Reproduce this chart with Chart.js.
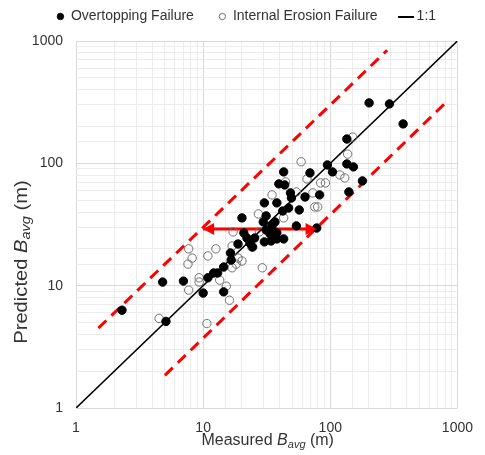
<!DOCTYPE html>
<html><head><meta charset="utf-8">
<script src="https://cdn.jsdelivr.net/npm/chart.js@4.4.0/dist/chart.umd.min.js"></script>
<style>html,body{margin:0;padding:0;background:#fff;}</style>
</head><body>
<canvas id="c" width="485" height="455" style="width:485px;height:455px;display:block"></canvas>
<script>
// ---- data (measured vs predicted B_avg, metres) ----
const overtopMeasured  = [2.3,4.8,7.0,5.1,10.9,10.0,12.1,13.0,14.5,14.5,16.4,16.6,18.8,20.9,22.1,23.3,24.5,25.4,20.2,30.3,38.0,42.3,47.0,57.0,31.3,29.7,36.7,34.8,31.3,33.6,38.0,54.1,78.2,30.3,34.2,38.0,43.0,43.0,39.4,43.8,69.2,48.6,63.3,82.4,49.5,94.9,104,135,135,152,179,140,202,292,374];
const overtopPredicted = [6.3,10.7,10.9,5.1,11.6,8.7,12.7,12.7,8.9,14.2,18.5,16.2,21.9,27.0,24.5,22.3,20.7,24.5,35.8,47.5,47.5,40.8,43.2,41.6,37.2,33.2,33.2,30.8,28.5,26.5,27.0,30.8,29.6,22.8,23.2,24.1,24.1,85.1,67.9,66.6,83.5,57.3,53.1,55.2,52.1,97.0,85.1,158,98.9,93.5,71.8,58.4,312,306,210];
const erosionMeasured  = [4.5,7.7,8.2,7.6,7.7,9.3,9.3,10.9,12.6,10.7,15.2,16.1,13.5,16.9,16.9,18.8,20.2,18.2,17.2,27.2,43.0,27.7,29.2,75.5,79.6,59.0,119,44.5,83.9,91.6,54.1,65.6,72.9,34.8,150,137,130,24.1];
const erosionPredicted = [5.4,20.0,16.8,15.0,9.2,11.6,10.7,17.5,20.0,4.9,9.9,7.6,11.1,21.1,14.0,16.8,15.9,15.0,27.5,38.6,35.8,27.5,14.0,44.0,44.0,103,80.4,70.5,69.2,69.2,58.4,74.5,57.3,55.2,164,119,76.0,20.7];
const oneToOneX = [1, 1000];
const oneToOneY = [1, 1000];
const upperBoundX = [1.5, 280];
const upperBoundY = [4.5, 840];
const lowerBoundX = [5.0, 800];
const lowerBoundY = [1.85, 310];
const arrowX = [10, 78];
const arrowY = [29, 29];
const tickLabels = [1, 10, 100, 1000];
const seriesNames = ['Overtopping Failure', 'Internal Erosion Failure', '1:1'];
const xTitleParts = ['Measured ', 'B', 'avg', ' (m)'];
const yTitleParts = ['Predicted ', 'B', 'avg', ' (m)'];

const zip = (xs, ys) => xs.map((x, i) => ({x: x, y: ys[i]}));
const FONT = "Arial, 'Liberation Sans', sans-serif";

const lineIcon = document.createElement('canvas');
lineIcon.width = 16; lineIcon.height = 2;
(function(){ const g = lineIcon.getContext('2d'); g.fillStyle = '#000'; g.fillRect(0, 0, 16, 2); })();

function drawRich(ctx, parts, cx, cy, rot, size, stretch) {
  ctx.save();
  ctx.translate(cx, cy);
  ctx.rotate(rot);
  ctx.scale(stretch, 1);
  const sub = Math.round(size * 0.7);
  const fonts = [size + 'px ' + FONT, 'italic ' + size + 'px ' + FONT, 'italic ' + sub + 'px ' + FONT, size + 'px ' + FONT];
  const dys = [0, 0, size * 0.25, 0];
  let total = 0;
  const ws = parts.map((t, i) => { ctx.font = fonts[i]; const w = ctx.measureText(t).width; total += w; return w; });
  let x = -total / 2;
  ctx.textBaseline = 'middle';
  ctx.fillStyle = '#333';
  parts.forEach((t, i) => { ctx.font = fonts[i]; ctx.fillText(t, x, dys[i]); x += ws[i]; });
  ctx.restore();
}

const LEGEND_PAD = 25;
const customPlugin = {
  id: 'custom',
  afterInit(chart) {
    const lg = chart.legend;
    const orig = lg.fit.bind(lg);
    lg.fit = function() { orig(); this.height = 41; };
  },
  afterLayout(chart) {
    const lg = chart.legend;
    lg.left += 12; lg.right += 12;
    lg.top = 16.5 - 7 - LEGEND_PAD;
  },
  afterDatasetsDraw(chart) {
    const ctx = chart.ctx;
    const meta = chart.getDatasetMeta(5);
    const p0 = meta.data[0], p1 = meta.data[1];
    ctx.save();
    ctx.fillStyle = '#ff0000';
    const L = 11, H = 6;
    ctx.beginPath();
    ctx.moveTo(p0.x, p0.y); ctx.lineTo(p0.x + L, p0.y - H); ctx.lineTo(p0.x + L, p0.y + H); ctx.closePath(); ctx.fill();
    ctx.beginPath();
    ctx.moveTo(p1.x, p1.y); ctx.lineTo(p1.x - L, p1.y - H); ctx.lineTo(p1.x - L, p1.y + H); ctx.closePath(); ctx.fill();
    ctx.restore();
  },
  afterDraw(chart) {
    const a = chart.chartArea;
    drawRich(chart.ctx, xTitleParts, (a.left + a.right) / 2 + 1, 441, 0, 16, 1);
    drawRich(chart.ctx, yTitleParts, 22, 262, -Math.PI / 2, 18, 1.12);
  }
};

const majorSet = new Set(tickLabels);
const gridColor = (ctx) => (ctx.tick && majorSet.has(ctx.tick.value)) ? '#d9d9d9' : '#ececec';
const tickCb = (v) => majorSet.has(v) ? String(v) : '';

new Chart(document.getElementById('c'), {
  type: 'scatter',
  data: {
    datasets: [
      { label: seriesNames[0], data: zip(overtopMeasured, overtopPredicted), pointRadius: 4.2, pointBackgroundColor: '#000', pointBorderColor: '#000', pointBorderWidth: 1, showLine: false },
      { label: seriesNames[1], data: zip(erosionMeasured, erosionPredicted), pointRadius: 4.2, pointBackgroundColor: 'rgba(255,255,255,0)', pointBorderColor: '#707070', pointBorderWidth: 1, showLine: false },
      { label: seriesNames[2], data: zip(oneToOneX, oneToOneY), showLine: true, pointRadius: 0, borderColor: '#000', borderWidth: 1.6 },
      { label: 'upper', data: zip(upperBoundX, upperBoundY), showLine: true, pointRadius: 0, borderColor: '#ff0000', borderWidth: 3, borderDash: [11, 7] },
      { label: 'lower', data: zip(lowerBoundX, lowerBoundY), showLine: true, pointRadius: 0, borderColor: '#ff0000', borderWidth: 3, borderDash: [11, 7] },
      { label: 'arrow', data: zip(arrowX, arrowY), showLine: true, pointRadius: 0, borderColor: '#ff0000', borderWidth: 3 }
    ]
  },
  options: {
    responsive: false,
    animation: false,
    devicePixelRatio: 1,
    layout: { padding: { top: 0, left: 0, right: 16, bottom: 0 } },
    plugins: {
      tooltip: { enabled: false },
      legend: {
        position: 'top',
        labels: {
          usePointStyle: true,
          boxWidth: 7,
          boxHeight: 4.5,
          padding: LEGEND_PAD,
          color: '#333',
          font: { size: 14, family: FONT },
          filter: (item) => item.datasetIndex < 3,
          generateLabels: (chart) => {
            const items = Chart.defaults.plugins.legend.labels.generateLabels(chart);
            items.forEach(it => {
              if (it.datasetIndex === 0) { it.fillStyle = '#000'; it.strokeStyle = '#000'; it.pointStyle = 'circle'; it.lineWidth = 1; }
              if (it.datasetIndex === 1) { it.fillStyle = 'rgba(255,255,255,0)'; it.strokeStyle = '#707070'; it.pointStyle = 'circle'; it.lineWidth = 1; }
              if (it.datasetIndex === 2) { it.pointStyle = lineIcon; }
            });
            return items;
          }
        }
      }
    },
    scales: {
      x: {
        type: 'logarithmic', min: 1, max: 1000,
        afterFit: (s) => { s.height = 47; },
        border: { display: false },
        grid: { color: gridColor, drawTicks: false, lineWidth: 1 },
        ticks: { autoSkip: false, maxRotation: 0, padding: 12, color: '#333', font: { size: 14, family: FONT }, callback: tickCb }
      },
      y: {
        type: 'logarithmic', min: 1, max: 1000,
        afterFit: (s) => { s.width = 76; },
        border: { display: false },
        grid: { color: gridColor, drawTicks: false, lineWidth: 1 },
        ticks: { autoSkip: false, padding: 13, color: '#333', font: { size: 14, family: FONT }, callback: tickCb }
      }
    }
  },
  plugins: [customPlugin]
});
</script>
</body></html>
